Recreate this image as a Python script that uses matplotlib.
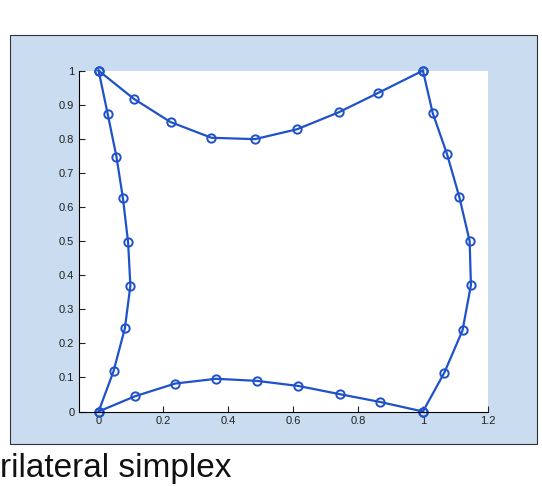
import matplotlib
matplotlib.use('Agg')
import matplotlib.pyplot as plt
from matplotlib.patches import Rectangle

plt.rcParams['font.family'] = ['Liberation Sans', 'DejaVu Sans']

# Edges of the mapped square (deskewed)
bottom_x = [0, 0.113, 0.236, 0.362, 0.487, 0.616, 0.743, 0.868, 1.0]
bottom_y = [0, 0.045, 0.082, 0.096, 0.090, 0.075, 0.051, 0.028, 0]

right_x = [1.0, 1.066, 1.122, 1.148, 1.144, 1.112, 1.074, 1.030, 1.0]
right_y = [0, 0.114, 0.238, 0.371, 0.500, 0.630, 0.756, 0.876, 1.0]

top_x = [0, 0.109, 0.222, 0.348, 0.482, 0.612, 0.741, 0.863, 1.0]
top_y = [1.0, 0.917, 0.849, 0.803, 0.799, 0.828, 0.878, 0.935, 1.0]

left_x = [0, 0.046, 0.081, 0.098, 0.091, 0.075, 0.055, 0.028, 0]
left_y = [0, 0.118, 0.244, 0.369, 0.496, 0.626, 0.748, 0.873, 1.0]

x_ticks = [0, 0.2, 0.4, 0.6, 0.8, 1, 1.2]
x_labels = ['0', '0.2', '0.4', '0.6', '0.8', '1', '1.2']
y_ticks = [0, 0.1, 0.2, 0.3, 0.4, 0.5, 0.6, 0.7, 0.8, 0.9, 1]
y_labels = ['0', '0.1', '0.2', '0.3', '0.4', '0.5', '0.6', '0.7', '0.8', '0.9', '1']

line_color = '#1f52c9'
panel_color = '#c9dcf0'

fig = plt.figure(figsize=(5.42, 4.87), dpi=100, facecolor='white')

# MATLAB figure window background
panel = Rectangle((0.018, 0.088), 0.972, 0.84, transform=fig.transFigure,
                  facecolor=panel_color, edgecolor='#333333', linewidth=0.8)
fig.add_artist(panel)
panel.set_zorder(0)

ax = fig.add_axes([0.146, 0.155, 0.754, 0.70])
ax.set_zorder(1)
ax.set_facecolor('white')

for xs, ys in [(bottom_x, bottom_y), (right_x, right_y), (top_x, top_y), (left_x, left_y)]:
    ax.plot(xs, ys, '-o', color=line_color, linewidth=1.6, markersize=6,
            markerfacecolor='none', markeredgewidth=1.4, clip_on=False)

ax.set_xlim(-0.06, 1.2)
ax.set_ylim(0, 1)
ax.set_xticks(x_ticks)
ax.set_xticklabels(x_labels)
ax.set_yticks(y_ticks)
ax.set_yticklabels(y_labels)
ax.tick_params(direction='in', length=4, labelsize=8, colors='#222222')
ax.spines['top'].set_visible(False)
ax.spines['right'].set_visible(False)

# page caption below the figure
fig.text(0.0, 0.02, 'rilateral simplex', fontsize=24, color='#111111',
         ha='left', va='baseline')

fig.savefig('out.png', dpi=100)
